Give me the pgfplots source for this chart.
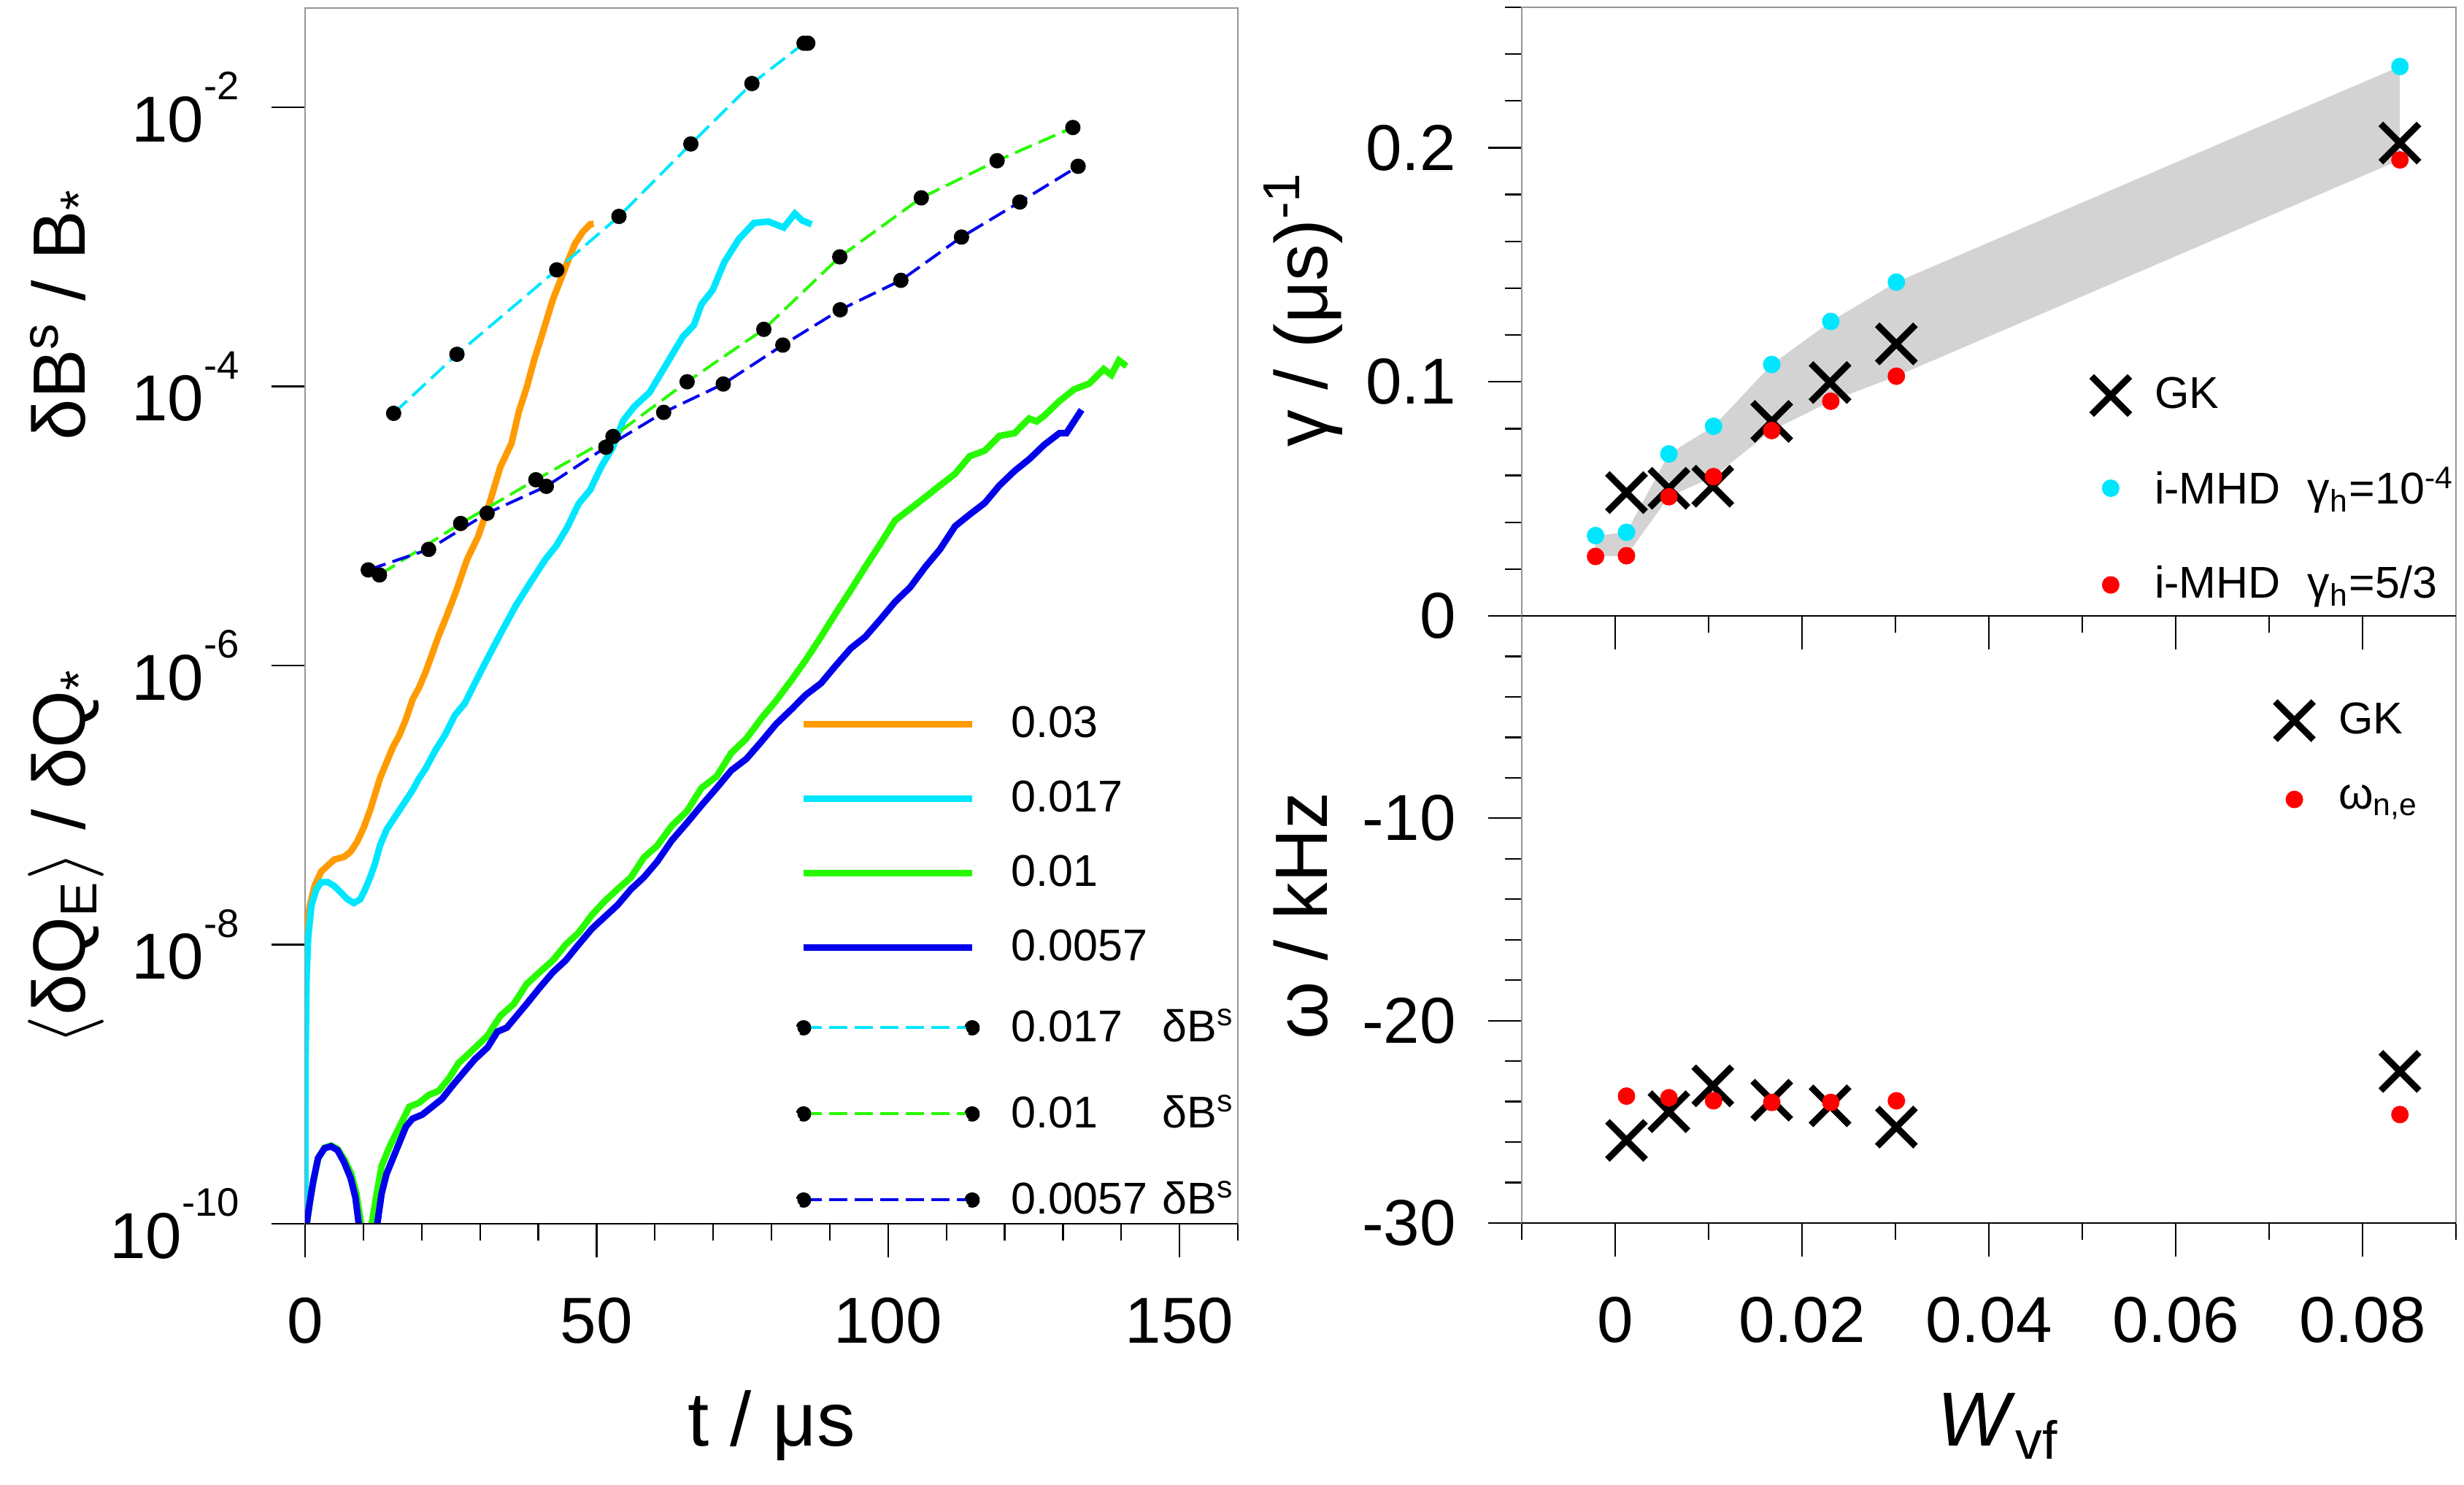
\documentclass[border=0pt]{standalone}
\usepackage{fontspec}
\setmainfont{Liberation Sans}
\usepackage{pgfplots}
\pgfplotsset{compat=1.18}

\definecolor{corange}{RGB}{255,155,0}
\definecolor{ccyan}{RGB}{0,230,255}
\definecolor{cgreen}{RGB}{40,250,0}
\definecolor{cblue}{RGB}{0,0,235}
\definecolor{cred}{RGB}{255,0,0}
\definecolor{bandgray}{RGB}{211,211,211}
\definecolor{framegray}{RGB}{150,150,150}

\newcommand{\tickfont}{\fontsize{17.8pt}{20pt}\selectfont}
\newcommand{\labfont}{\fontsize{21pt}{24pt}\selectfont}
\newcommand{\ylabfont}{\fontsize{20.3pt}{24pt}\selectfont}
\newcommand{\legfont}{\fontsize{12.2pt}{14pt}\selectfont}
\newcommand{\tsup}[1]{\raisebox{11.5pt}{\fontsize{10.9pt}{11pt}\selectfont #1}}

\pgfplotsset{
 base/.style={scale only axis, anchor=south west,
   axis line style={draw=framegray, line width=0.35pt},
   tick style={black, line width=0.45pt},
   tick align=outside, tick pos=left,
   major tick length=9.2pt, minor tick length=4.6pt,
   tick label style={font=\tickfont},
   scaled ticks=false,
   xticklabel style={yshift=-7.6pt},
   yticklabel style={xshift=-5.3pt},
   legend cell align=left,
   legend style={draw=none, fill=none, inner sep=0pt, outer sep=0pt,
     nodes={inner sep=0pt, outer sep=0pt}, font=\legfont},
 },
 legsolid/.style={legend image code/.code={\draw[##1] (0pt,0pt) -- (46.2pt,0pt); \path (0pt,-#1) (0pt,#1);}},
 legdash/.style={legend image code/.code={\draw[##1, mark=none] (0pt,0pt) -- (46.2pt,0pt); \fill[black] (0pt,0pt) circle[radius=1.7pt] (46.2pt,0pt) circle[radius=1.7pt]; \path (0pt,-#1) (0pt,#1);}},
 legmark/.style={legend image code/.code={\draw[##1] plot coordinates {(0pt,0pt)}; \path (0pt,-#1) (0pt,#1);}},
}

\begin{document}
\begin{tikzpicture}
\useasboundingbox (0,0) rectangle (675.2pt,407pt);

% ---------------- left panel ----------------
\begin{axis}[base, name=L, at={(83.6pt,71.6pt)}, width=255.6pt, height=333.2pt,
  xmin=0, xmax=160, ymode=log, ymin=1e-10, ymax=0.0514,
  xtick={0,50,100,150}, xticklabels={0,50,100,150},
  minor xtick={10,20,30,40,60,70,80,90,110,120,130,140,160},
  ytick={1e-10,1e-8,1e-6,1e-4,1e-2},
  yticklabels={10\tsup{-10},10\tsup{-8},10\tsup{-6},10\tsup{-4},10\tsup{-2}},
  yminorticks=false,
  legend style={at={(0.5262,0.4415)}, anchor=north west, column sep=8.6pt},
]
\addplot[color=corange, line width=1.8pt, legsolid=9.3pt] coordinates {
(0,1e-11) (0.05,2.51e-9) (0.1,7.94e-9) (0.26,1.288e-8) (0.82,1.905e-8) (1.66,2.661e-8) (2.78,3.350e-8) (3.89,3.690e-8) (5.01,4.074e-8) (6.69,4.256e-8) (7.81,4.634e-8) (8.93,5.458e-8) (10.04,6.855e-8) (11.16,9.204e-8) (12.0,1.194e-7) (12.84,1.552e-7) (13.96,2.014e-7) (15.08,2.612e-7) (16.19,3.177e-7) (17.31,4.130e-7) (18.43,5.702e-7) (19.55,6.950e-7) (20.7,9.036e-7) (21.8,1.211e-6) (22.9,1.626e-6) (24.0,2.109e-6) (25.86,3.357e-6) (27.78,5.741e-6) (29.69,8.414e-6) (31.6,1.439e-5) (33.5,2.655e-5) (35.4,3.899e-5) (36.7,6.668e-5) (38.0,9.772e-5) (39.3,1.549e-4) (40.55,2.270e-4) (42.5,4.188e-4) (43.75,5.689e-4) (45.0,7.745e-4) (46.3,1.052e-3) (47.6,1.274e-3) (48.9,1.449e-3) (49.5,1.462e-3)
};
\addlegendentry{0.03}
\addplot[color=ccyan, line width=1.8pt, legsolid=9.3pt] coordinates {
(0,1e-11) (0.04,4.365e-10) (0.09,1.611e-9) (0.26,5.929e-9) (0.54,1.140e-8) (1.10,1.923e-8) (1.94,2.495e-8) (2.78,2.805e-8) (3.89,2.805e-8) (5.01,2.630e-8) (6.13,2.366e-8) (7.25,2.118e-8) (8.37,1.986e-8) (9.48,2.118e-8) (10.32,2.495e-8) (11.16,3.034e-8) (12.0,3.811e-8) (12.84,5.117e-8) (13.96,6.637e-8) (15.07,7.816e-8) (16.19,9.204e-8) (17.31,1.084e-7) (18.43,1.276e-7) (19.55,1.552e-7) (20.67,1.824e-7) (22.3,2.449e-7) (24.0,3.177e-7) (25.7,4.406e-7) (27.4,5.358e-7) (29.1,7.430e-7) (31.0,1.064e-6) (33.5,1.683e-6) (36.1,2.667e-6) (38.6,3.908e-6) (41.2,5.741e-6) (43.1,7.228e-6) (45.0,9.817e-6) (46.9,1.439e-5) (48.9,1.811e-5) (50.8,2.655e-5) (52.7,3.606e-5) (54.6,5.715e-5) (56.5,7.194e-5) (59.1,9.057e-5) (61.0,1.230e-4) (62.9,1.671e-4) (64.8,2.270e-4) (66.7,2.748e-4) (68.0,3.882e-4) (69.9,4.887e-4) (71.9,7.745e-4) (74.4,1.135e-3) (77.0,1.483e-3) (79.5,1.517e-3) (82.1,1.374e-3) (84.0,1.730e-3) (85.3,1.542e-3) (86.9,1.449e-3)
};
\addlegendentry{0.017}
\addplot[color=cgreen, line width=1.8pt, legsolid=9.3pt] coordinates {
(0.15,1e-11) (0.3,1e-10) (0.85,1.445e-10) (1.4,1.995e-10) (2.25,2.951e-10) (3.35,3.508e-10) (4.5,3.631e-10) (5.6,3.428e-10) (6.75,2.884e-10) (7.9,2.291e-10) (8.8,1.660e-10) (9.6,1e-10) (9.8,1e-11) (11.3,1e-11) (11.44,1e-10) (12.28,1.641e-10) (13.12,2.588e-10) (14.52,3.589e-10) (16.19,4.966e-10) (17.87,6.887e-10) (19.55,7.362e-10) (21.22,8.375e-10) (22.9,8.954e-10) (24.6,1.089e-9) (26.3,1.413e-9) (28.5,1.718e-9) (31.3,2.228e-9) (33.5,3.090e-9) (35.8,3.758e-9) (38.0,5.212e-9) (40.2,6.339e-9) (42.5,7.709e-9) (44.7,1e-8) (46.9,1.216e-8) (49.2,1.633e-8) (51.4,2.051e-8) (53.6,2.495e-8) (55.9,3.034e-8) (58.1,4.207e-8) (60.4,5.117e-8) (62.9,7.112e-8) (65.5,9.036e-8) (68.0,1.327e-7) (70.6,1.607e-7) (73.1,2.360e-7) (75.7,2.999e-7) (78.3,4.198e-7) (80.8,5.598e-7) (83.4,7.834e-7) (85.9,1.096e-6) (88.5,1.607e-6) (91.0,2.360e-6) (93.6,3.467e-6) (96.1,5.093e-6) (98.7,7.464e-6) (101.2,1.096e-5) (103.8,1.327e-5) (106.4,1.611e-5) (108.9,1.950e-5) (111.5,2.366e-5) (114.0,3.155e-5) (116.6,3.467e-5) (119.1,4.416e-5) (121.7,4.624e-5) (124.2,5.888e-5) (125.5,5.610e-5) (126.8,6.166e-5) (129.4,7.852e-5) (131.9,9.506e-5) (134.5,1.047e-4) (137.0,1.330e-4) (138.3,1.208e-4) (139.6,1.535e-4) (140.9,1.396e-4)
};
\addlegendentry{0.01}
\addplot[color=cblue, line width=1.8pt, legsolid=9.3pt] coordinates {
(0.15,1e-11) (0.26,1e-10) (0.82,1.439e-10) (1.38,1.995e-10) (2.22,2.951e-10) (3.34,3.475e-10) (4.45,3.589e-10) (5.57,3.365e-10) (6.69,2.761e-10) (7.81,2.128e-10) (8.65,1.535e-10) (9.2,1e-10) (9.4,1e-11) (12.2,1e-11) (12.39,1e-10) (13.12,1.641e-10) (13.96,2.270e-10) (15.63,3.357e-10) (17.31,4.977e-10) (18.43,5.662e-10) (20.1,6.053e-10) (21.8,6.887e-10) (23.5,7.852e-10) (25.1,9.550e-10) (26.8,1.161e-9) (29.1,1.507e-9) (31.3,1.832e-9) (33.0,2.382e-9) (34.6,2.541e-9) (36.3,3.090e-9) (38.0,3.758e-9) (40.2,4.887e-9) (42.5,6.339e-9) (44.7,7.709e-9) (46.9,1e-8) (49.2,1.300e-8) (51.4,1.581e-8) (53.6,1.923e-8) (55.9,2.495e-8) (58.1,3.034e-8) (60.4,3.936e-8) (62.9,5.585e-8) (65.5,7.447e-8) (68.0,9.954e-8) (70.6,1.327e-7) (73.1,1.770e-7) (75.7,2.143e-7) (78.3,2.858e-7) (80.8,3.811e-7) (83.4,4.842e-7) (85.9,6.166e-7) (88.5,7.464e-7) (91.0,9.954e-7) (93.6,1.327e-6) (96.1,1.607e-6) (98.7,2.143e-6) (101.2,2.858e-6) (103.8,3.639e-6) (106.4,5.093e-6) (108.9,6.792e-6) (111.5,9.954e-6) (114.0,1.208e-5) (116.6,1.462e-5) (119.1,1.950e-5) (121.7,2.477e-5) (124.2,3.006e-5) (126.8,3.819e-5) (129.4,4.624e-5) (130.6,4.624e-5) (131.9,5.610e-5) (133.2,6.792e-5)
};
\addlegendentry{0.0057}
\addplot[color=ccyan, line width=0.8pt, dash pattern=on 5pt off 2pt, mark=*, mark size=1.7pt, mark options={solid, black, fill=black}, legdash=11.4pt] coordinates {
(15.19,6.412e-5) (26.05,1.698e-4) (43.17,6.839e-4) (53.84,1.652e-3) (66.17,5.458e-3) (76.65,1.479e-2) (85.59,2.877e-2) (86.23,2.877e-2)
};
\addlegendentry{\makebox[41.4pt][l]{0.017}δB\textsuperscript{s}}
\addplot[color=cgreen, line width=0.8pt, dash pattern=on 5pt off 2pt, mark=*, mark size=1.7pt, mark options={solid, black, fill=black}, legdash=11.4pt] coordinates {
(12.76,4.457e-6) (26.69,1.042e-5) (39.59,2.143e-5) (52.82,4.375e-5) (65.53,1.079e-4) (78.69,2.564e-4) (91.72,8.472e-4) (105.7,2.244e-3) (118.7,4.140e-3) (131.7,7.161e-3)
};
\addlegendentry{\makebox[41.4pt][l]{0.01}δB\textsuperscript{s}}
\addplot[color=cblue, line width=0.8pt, dash pattern=on 5pt off 2pt, mark=*, mark size=1.7pt, mark options={solid, black, fill=black}, legdash=11.4pt] coordinates {
(10.84,4.842e-6) (21.19,6.792e-6) (31.22,1.233e-5) (41.38,1.923e-5) (51.60,3.664e-5) (61.51,6.516e-5) (71.73,1.040e-4) (81.95,1.977e-4) (91.79,3.540e-4) (102.2,5.754e-4) (112.6,1.175e-3) (122.6,2.094e-3) (132.6,3.776e-3)
};
\addlegendentry{\makebox[41.4pt][l]{0.0057}δB\textsuperscript{s}}
\end{axis}

% ---------------- upper right panel ----------------
\begin{axis}[base, name=U, at={(417pt,238.2pt)}, width=256pt, height=166.8pt,
  xmin=-0.01, xmax=0.09, ymin=0, ymax=0.26,
  xtick={0,0.02,0.04,0.06,0.08}, xticklabels={},
  minor xtick={-0.01,0.01,0.03,0.05,0.07,0.09},
  ytick={0,0.1,0.2}, yticklabels={0,0.1,0.2},
  minor ytick={0.02,0.04,0.06,0.08,0.12,0.14,0.16,0.18,0.22,0.24,0.26},
  legend style={at={(0.610,0.4358)}, anchor=north west, column sep=6.8pt},
]
\addplot[fill=bandgray, draw=none, forget plot] coordinates {
(-0.0021,0.0343) (0.00121,0.0357) (0.00575,0.0692) (0.01053,0.0810) (0.01676,0.1074) (0.02308,0.1258) (0.0301,0.1426) (0.0840,0.2347)
(0.0840,0.1948) (0.0301,0.1024) (0.02308,0.0917) (0.01676,0.0792) (0.01053,0.0595) (0.00575,0.0509) (0.00121,0.0257) (-0.0021,0.0254)
} -- cycle;
\addplot[only marks, mark=x, mark size=7.4pt, line width=1.8pt, black, legmark=11.4pt] coordinates {
(0.00121,0.0527) (0.00575,0.0545) (0.01045,0.0554) (0.01676,0.0831) (0.0230,0.0997) (0.0301,0.1162) (0.0840,0.2020)
};
\addlegendentry{GK}
\addplot[only marks, mark=*, mark size=2.2pt, color=ccyan, legmark=12.9pt] coordinates {
(-0.0021,0.0343) (0.00121,0.0357) (0.00575,0.0692) (0.01053,0.0810) (0.01676,0.1074) (0.02308,0.1258) (0.0301,0.1426) (0.0840,0.2347)
};
\addlegendentry{i-MHD\hspace{7.4pt}γ\textsubscript{h}=10\textsuperscript{-4}}
\addplot[only marks, mark=*, mark size=2.2pt, color=cred, legmark=13.2pt] coordinates {
(-0.0021,0.0254) (0.00121,0.0257) (0.00575,0.0509) (0.01053,0.0595) (0.01676,0.0792) (0.02308,0.0917) (0.0301,0.1024) (0.0840,0.1948)
};
\addlegendentry{i-MHD\hspace{7.4pt}γ\textsubscript{h}=5/3}
\end{axis}

% ---------------- lower right panel ----------------
\begin{axis}[base, name=D, at={(417pt,71.8pt)}, width=256pt, height=166.4pt,
  xmin=-0.01, xmax=0.09, ymin=-30, ymax=0,
  xtick={0,0.02,0.04,0.06,0.08}, xticklabels={0,0.02,0.04,0.06,0.08},
  minor xtick={-0.01,0.01,0.03,0.05,0.07,0.09},
  ytick={-30,-20,-10}, yticklabels={-30,-20,-10},
  minor ytick={-28,-26,-24,-22,-18,-16,-14,-12,-8,-6,-4,-2},
  legend style={at={(0.8066,0.8945)}, anchor=north west, column sep=6.9pt},
]
\addplot[only marks, mark=x, mark size=7.4pt, line width=1.8pt, black, legmark=10.25pt] coordinates {
(0.00121,-25.92) (0.00575,-24.50) (0.01045,-23.22) (0.01676,-23.93) (0.0230,-24.21) (0.0301,-25.26) (0.0840,-22.51)
};
\addlegendentry{GK}
\addplot[only marks, mark=*, mark size=2.2pt, color=cred, legmark=10.25pt] coordinates {
(0.00121,-23.73) (0.00575,-23.81) (0.01053,-23.96) (0.01676,-24.04) (0.02308,-24.04) (0.0301,-23.96) (0.0840,-24.64)
};
\addlegendentry{ω\textsubscript{n,e}}
\end{axis}

% bottom axis lines in black
\draw[black, line width=0.45pt] (L.south west) -- (L.south east);
\draw[black, line width=0.45pt] (U.south west) -- (U.south east);
\draw[black, line width=0.45pt] (D.south west) -- (D.south east);

% axis labels
\node[font=\labfont, anchor=base] at (211.4pt,10.6pt) {t / μs};
\node[font=\labfont, anchor=base] at (547.6pt,10.6pt) {\textit{W}\textsubscript{vf}};
\node[font=\ylabfont, anchor=base, rotate=90] at (23.4pt,320.8pt) {δB\textsuperscript{s} / B\textsubscript{*}};
\node[font=\ylabfont, anchor=base, rotate=90] at (23.4pt,172.2pt) {$\langle$δQ\textsubscript{E}$\rangle$ / δQ\textsubscript{*}};
\node[font=\ylabfont, anchor=base, rotate=90] at (363.6pt,322.2pt) {γ / (μs)\textsuperscript{-1}};
\node[font=\ylabfont, anchor=base, rotate=90] at (363.6pt,156pt) {ω / kHz};
\end{tikzpicture}
\end{document}
